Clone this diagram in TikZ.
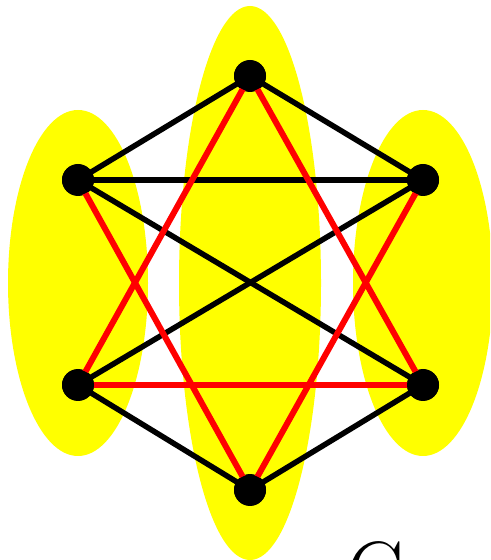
\documentclass[tikz,border=0pt]{standalone}
\usepackage{tikz}
\definecolor{blobyellow}{RGB}{255,255,0}
\definecolor{edgered}{RGB}{255,0,0}
\tikzset{
  vtx/.style={circle, fill=black, inner sep=0pt, minimum width=0.64cm, minimum height=0.6cm},
  blob/.style={fill=blobyellow},
  blackedge/.style={black, line width=0.11cm},
  rededge/.style={edgered, line width=0.12cm}
}
\begin{document}
\begin{tikzpicture}[x=0.02cm, y=0.02cm]
  % 1. 画布范围
  \useasboundingbox (0,0) rectangle (490,560);
  \clip (0,0) rectangle (490,560);

  % 2. 黄色分组 (底层)
  \fill[blob] (78,277) ellipse [x radius=70, y radius=173];
  \fill[blob] (250,277) ellipse [x radius=71, y radius=277];
  \fill[blob] (423,277) ellipse [x radius=70, y radius=173];

  % 3. 顶点
  \node[vtx] (t)  at (250,484) {};
  \node[vtx] (ul) at (78,380) {};
  \node[vtx] (ur) at (423,380) {};
  \node[vtx] (ll) at (78,175) {};
  \node[vtx] (lr) at (423,175) {};
  \node[vtx] (b)  at (250,70) {};

  % 4. 黑色边
  \draw[blackedge] (t.center) -- (ul.center);
  \draw[blackedge] (t.center) -- (ur.center);
  \draw[blackedge] (ul.center) -- (ur.center);
  \draw[blackedge] (ul.center) -- (lr.center);
  \draw[blackedge] (ur.center) -- (ll.center);
  \draw[blackedge] (ll.center) -- (b.center);
  \draw[blackedge] (lr.center) -- (b.center);

  % 5. 红色边
  \draw[rededge] (t.center) -- (ll.center);
  \draw[rededge] (t.center) -- (lr.center);
  \draw[rededge] (ul.center) -- (b.center);
  \draw[rededge] (ur.center) -- (b.center);
  \draw[rededge] (ll.center) -- (lr.center);

  % 6. 顶点重画在边之上
  \foreach \v in {t,ul,ur,ll,lr,b}
    \fill (\v) ellipse [x radius=16, y radius=15];

  % 7. 标签 (被画布截断)
  \node[anchor=north, inner sep=0pt, font=\fontsize{48}{54}\selectfont] (glabel) at (378,19) {G};
\end{tikzpicture}
\end{document}
